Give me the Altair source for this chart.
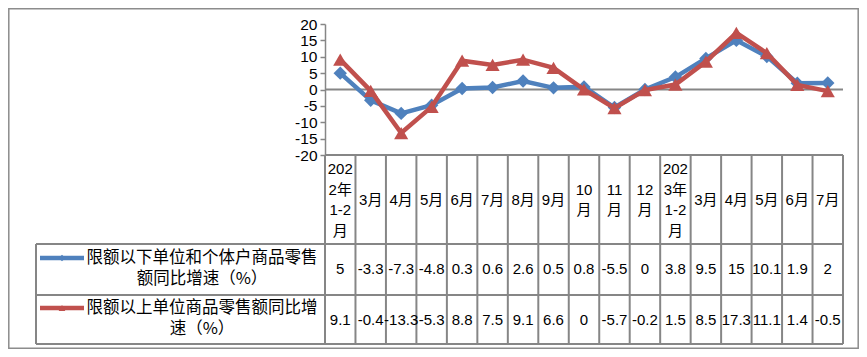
import altair as alt
import pandas as pd

# ---- data ----
cat_labels = ["202\n2年\n1-2\n月", "3月", "4月", "5月", "6月", "7月", "8月", "9月",
              "10\n月", "11\n月", "12\n月", "202\n3年\n1-2\n月", "3月", "4月", "5月", "6月", "7月"]
below_vals = [5, -3.3, -7.3, -4.8, 0.3, 0.6, 2.6, 0.5, 0.8, -5.5, 0, 3.8, 9.5, 15, 10.1, 1.9, 2]
above_vals = [9.1, -0.4, -13.3, -5.3, 8.8, 7.5, 9.1, 6.6, 0, -5.7, -0.2, 1.5, 8.5, 17.3, 11.1, 1.4, -0.5]
series_names = ["限额以下单位和个体户商品零售额同比增速（%）", "限额以上单位商品零售额同比增速（%）"]
legend_line1 = ["限额以下单位和个体户商品零售", "限额以上单位商品零售额同比增"]
legend_line2 = ["额同比增速（%）", "速（%）"]
colors = ["#4F81BD", "#C0504D"]
shapes = ["diamond", "triangle-up"]
y_ticks = [-20, -15, -10, -5, 0, 5, 10, 15, 20]

n = len(cat_labels)
W, H = 518, 131
GRID = "#868686"
NUMFONT = "Liberation Sans, Noto Sans CJK SC"
CJKFONT = "Noto Sans CJK SC"


def fmt(v):
    return f"{v:g}"


series_vals = [below_vals, above_vals]
frames = []
for s, vals in enumerate(series_vals):
    frames.append(pd.DataFrame({
        "idx": list(range(n)),
        "pos": [i + 0.5 for i in range(n)],
        "series": series_names[s],
        "value": vals,
        "txt": [fmt(v) for v in vals],
    }))

cat_df = pd.DataFrame({"pos": [i + 0.5 for i in range(n)], "label": cat_labels,
                       "nl": [lab.count("\n") + 1 for lab in cat_labels]})
bounds_df = pd.DataFrame({"b": list(range(n + 1))})
dummy = pd.DataFrame({"a": [0]})

xs = alt.Scale(domain=[0, n], nice=False, zero=False)
ys = alt.Scale(domain=[-20, 20], nice=False, zero=False)
yaxis = alt.Axis(values=y_ticks, title=None, grid=False, labelExpr="'' + datum.value",
                 labelFontSize=15.5, labelFont=NUMFONT, labelColor="black",
                 domainColor=GRID, domainWidth=1.5, tickColor=GRID,
                 tickSize=5, tickWidth=1.5, labelPadding=3)


def X(field):
    return alt.X(field, scale=xs, axis=None)


def Y(field):
    return alt.Y(field, scale=ys, axis=yaxis)


layers = []

# outer frame
layers.append(alt.Chart(dummy).mark_rect(fillOpacity=0, stroke="#8C8C8C", strokeWidth=1.5).encode(
    x=alt.value(-316.2), x2=alt.value(533.2), y=alt.value(-15.2), y2=alt.value(324.2)))

# zero line (also carries the y axis)
layers.append(alt.Chart(dummy).mark_rule(color=GRID, strokeWidth=2).encode(
    y=Y("a:Q"), x=alt.value(0), x2=alt.value(W)))

# table grid
layers.append(alt.Chart(bounds_df).mark_rule(color=GRID, strokeWidth=2).encode(
    x=X("b:Q"), y=alt.value(H), y2=alt.value(320)))
layers.append(alt.Chart(dummy).mark_rule(color=GRID, strokeWidth=2).encode(
    x=alt.value(0), x2=alt.value(W), y=alt.value(H)))
for yy in [220, 271, 320]:
    layers.append(alt.Chart(dummy).mark_rule(color=GRID, strokeWidth=2).encode(
        x=alt.value(-289), x2=alt.value(W), y=alt.value(yy)))
layers.append(alt.Chart(dummy).mark_rule(color=GRID, strokeWidth=2).encode(
    x=alt.value(-289), y=alt.value(220), y2=alt.value(320)))

# category header (first line placed so that the block is centred)
LH = 20.7
for k in sorted(set(cat_df["nl"])):
    layers.append(alt.Chart(cat_df).transform_filter(alt.datum.nl == k).mark_text(
        lineBreak="\n", lineHeight=LH, fontSize=15, font=NUMFONT,
        color="black", baseline="middle", align="center").encode(
        x=X("pos:Q"), y=alt.value(176 - (k - 1) * LH / 2), text="label:N"))

# series lines and markers
marker_sizes = [180, 200]
for s in range(2):
    base = alt.Chart(frames[s])
    layers.append(base.mark_line(strokeWidth=4.5, color=colors[s]).encode(
        x=X("pos:Q"), y=Y("value:Q")))
    layers.append(base.mark_point(filled=True, opacity=1, size=marker_sizes[s], shape=shapes[s],
                                  color=colors[s]).encode(
        x=X("pos:Q"), y=Y("value:Q")))

# table values
row_y = [245, 296]
for s in range(2):
    layers.append(alt.Chart(frames[s]).mark_text(fontSize=15, font=NUMFONT, color="black",
                                                 baseline="middle", align="center").encode(
        x=X("pos:Q"), y=alt.value(row_y[s]), text="txt:N"))

# legend column
leg_y = [234, 284]
for s in range(2):
    layers.append(alt.Chart(dummy).mark_rule(color=colors[s], strokeWidth=4.5).encode(
        x=alt.value(-285), x2=alt.value(-241), y=alt.value(leg_y[s])))
    layers.append(alt.Chart(dummy).mark_point(filled=True, opacity=1, size=45, shape=shapes[s],
                                              color=colors[s]).encode(
        x=alt.value(-263), y=alt.value(leg_y[s])))
    lt = pd.DataFrame({"t1": [legend_line1[s]], "t2": [legend_line2[s]]})
    layers.append(alt.Chart(lt).mark_text(fontSize=16.5, font=CJKFONT, color="black",
                                          baseline="middle", align="center").encode(
        x=alt.value(-123), y=alt.value(leg_y[s]), text="t1:N"))
    layers.append(alt.Chart(lt).mark_text(fontSize=16.5, font=CJKFONT, color="black",
                                          baseline="middle", align="center").encode(
        x=alt.value(-123), y=alt.value(leg_y[s] + 21), text="t2:N"))

chart = alt.layer(*layers).properties(
    width=W, height=H,
    autosize=alt.AutoSizeParams(type="none"),
    padding={"left": 317, "top": 16, "right": 16, "bottom": 194},
).configure_view(strokeWidth=0)

chart.save("out.html", embed_options={"renderer": "svg", "actions": False})
